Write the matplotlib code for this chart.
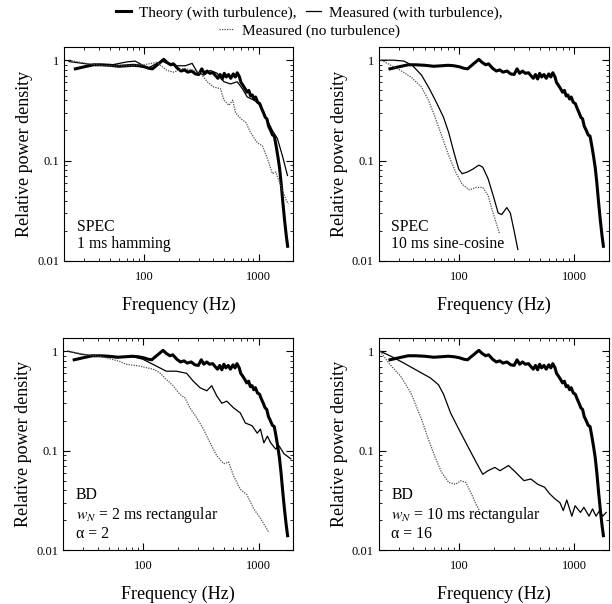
import matplotlib
matplotlib.use('Agg')
from matplotlib import pyplot as plt
from matplotlib.ticker import NullFormatter

plt.rcParams['font.family'] = ['Liberation Serif', 'DejaVu Serif']
plt.rcParams['mathtext.fontset'] = 'stix'

# theory curve (with turbulence) - same in every panel
theory_f = [25, 30, 36, 42, 50, 60, 70, 80, 90, 100, 110, 118, 130, 148, 158, 170, 180,
            195, 210, 225, 240, 260, 280, 300, 318, 335, 355, 375, 400, 420, 440, 460,
            480, 500, 520, 545, 570, 600, 625, 650, 680, 700, 730, 760, 790, 820, 850,
            880, 910, 940, 980, 1020, 1060, 1100, 1140, 1180, 1220, 1270, 1320, 1370,
            1420, 1470, 1520, 1570, 1620, 1680, 1740, 1790]
theory_v = [0.82, 0.86, 0.9, 0.9, 0.89, 0.87, 0.88, 0.89, 0.88, 0.86, 0.83, 0.82, 0.9,
            1.02, 0.95, 0.9, 0.92, 0.83, 0.78, 0.8, 0.76, 0.78, 0.73, 0.72, 0.82, 0.74,
            0.78, 0.74, 0.75, 0.7, 0.66, 0.72, 0.65, 0.74, 0.68, 0.72, 0.66, 0.73, 0.68,
            0.75, 0.68, 0.6, 0.56, 0.52, 0.48, 0.5, 0.44, 0.45, 0.41, 0.43, 0.38, 0.37,
            0.33, 0.3, 0.27, 0.26, 0.22, 0.2, 0.18, 0.175, 0.14, 0.11, 0.085, 0.06, 0.04,
            0.026, 0.018, 0.014]

# SPEC, 1 ms hamming
spec1_turb_f = [22, 36, 50, 70, 83, 99, 109, 129, 143, 158, 193, 229, 262, 290, 332, 379,
                434, 497, 568, 649, 720, 794, 910, 1039, 1152, 1317, 1458, 1610, 1784]
spec1_turb_v = [0.97, 0.9, 0.89, 0.96, 0.98, 0.88, 0.84, 0.93, 0.98, 0.93, 0.88, 0.88,
                0.93, 0.76, 0.71, 0.79, 0.74, 0.61, 0.58, 0.61, 0.52, 0.43, 0.4, 0.355,
                0.27, 0.2, 0.165, 0.112, 0.071]
spec1_none_f = [22, 31, 44, 70, 99, 129, 158, 181, 221, 271, 310, 355, 405, 464, 497, 550,
                593, 627, 700, 773, 849, 975, 1079, 1194, 1317, 1410, 1561, 1728, 1820]
spec1_none_v = [1.0, 0.93, 0.88, 0.88, 0.9, 0.95, 0.79, 0.76, 0.83, 0.79, 0.74, 0.61,
                0.54, 0.52, 0.4, 0.355, 0.4, 0.3, 0.26, 0.24, 0.19, 0.15, 0.14, 0.104,
                0.074, 0.077, 0.056, 0.041, 0.037]

# SPEC, 10 ms sine-cosine
spec10_turb_f = [21, 27, 33, 39, 47, 55, 64, 73, 81, 90, 99, 106, 118, 131, 148, 160, 178,
                 197, 218, 234, 259, 278, 297, 323]
spec10_turb_v = [1.0, 1.0, 0.98, 0.89, 0.71, 0.52, 0.37, 0.27, 0.19, 0.12, 0.082, 0.074,
                 0.077, 0.082, 0.09, 0.086, 0.066, 0.045, 0.03, 0.029, 0.034, 0.03, 0.021,
                 0.013]
spec10_none_f = [21, 31, 38, 47, 54, 61, 70, 81, 93, 106, 122, 140, 160, 178, 197, 223]
spec10_none_v = [1.0, 0.79, 0.68, 0.54, 0.4, 0.28, 0.18, 0.112, 0.077, 0.058, 0.051,
                 0.054, 0.054, 0.045, 0.03, 0.019]

# BD, wN = 2 ms, alpha = 2
bd2_turb_f = [22, 29, 41, 58, 81, 99, 129, 158, 193, 237, 271, 310, 355, 392, 434, 480,
              530, 606, 694, 768, 881, 975, 1039, 1113, 1194, 1277, 1410, 1508, 1668, 1910]
bd2_turb_v = [1.0, 0.93, 0.89, 0.86, 0.88, 0.83, 0.71, 0.63, 0.63, 0.6, 0.5, 0.43, 0.4,
              0.45, 0.355, 0.3, 0.315, 0.27, 0.24, 0.19, 0.178, 0.15, 0.165, 0.12, 0.14,
              0.12, 0.104, 0.112, 0.093, 0.083]
bd2_none_f = [22, 31, 44, 62, 70, 92, 121, 138, 158, 181, 207, 229, 253, 290, 332, 379,
              434, 497, 550, 606, 694, 794, 910, 1039, 1233]
bd2_none_v = [1.0, 0.93, 0.88, 0.79, 0.74, 0.71, 0.66, 0.61, 0.52, 0.45, 0.37, 0.34, 0.27,
              0.215, 0.165, 0.12, 0.089, 0.074, 0.077, 0.056, 0.041, 0.036, 0.026, 0.021,
              0.015]

# BD, wN = 10 ms, alpha = 16
bd10_turb_f = [20.5, 26, 33, 44, 56, 66, 73, 84, 99, 118, 140, 160, 178, 204, 226, 268,
               308, 365, 419, 481, 551, 610, 676, 751, 802, 860, 952, 1015, 1132, 1211,
               1343, 1440, 1544, 1656, 1769, 1892]
bd10_turb_v = [1.0, 0.88, 0.76, 0.63, 0.54, 0.46, 0.37, 0.24, 0.165, 0.112, 0.077, 0.058,
               0.063, 0.068, 0.063, 0.071, 0.061, 0.05, 0.052, 0.046, 0.043, 0.037, 0.033,
               0.03, 0.025, 0.032, 0.022, 0.028, 0.024, 0.027, 0.022, 0.026, 0.022, 0.025,
               0.022, 0.024]
bd10_none_f = [20.5, 25, 31, 38, 47, 54, 61, 70, 81, 93, 103, 114, 126, 140, 150]
bd10_none_v = [1.0, 0.735, 0.56, 0.38, 0.207, 0.13, 0.089, 0.061, 0.048, 0.046, 0.05,
               0.048, 0.038, 0.029, 0.025]

panel_notes = ['SPEC\n1 ms hamming',
               'SPEC\n10 ms sine-cosine',
               'BD\n$w_N$ = 2 ms rectangular\nα = 2',
               'BD\n$w_N$ = 10 ms rectangular\nα = 16']
panel_turb = [(spec1_turb_f, spec1_turb_v), (spec10_turb_f, spec10_turb_v),
              (bd2_turb_f, bd2_turb_v), (bd10_turb_f, bd10_turb_v)]
panel_none = [(spec1_none_f, spec1_none_v), (spec10_none_f, spec10_none_v),
              (bd2_none_f, bd2_none_v), (bd10_none_f, bd10_none_v)]

fig = plt.figure(figsize=(6.12, 6.04), dpi=100)

# axes rectangles in figure fractions
boxes = [[0.105, 0.568, 0.374, 0.354], [0.619, 0.568, 0.376, 0.354],
         [0.103, 0.089, 0.376, 0.351], [0.619, 0.089, 0.376, 0.351]]

for i in range(4):
    ax = fig.add_axes(boxes[i])
    h1, = ax.plot(theory_f, theory_v, color='black', lw=2.2)
    h2, = ax.plot(*panel_turb[i], color='black', lw=0.9)
    h3, = ax.plot(*panel_none[i], color='0.3', lw=0.9, linestyle=(0, (1, 1)))
    ax.set_xscale('log')
    ax.set_yscale('log')
    ax.set_xlim(20, 2000)
    ax.set_ylim(0.01, 1.35)
    ax.set_xticks([100, 1000])
    ax.set_xticklabels(['100', '1000'])
    ax.set_yticks([0.01, 0.1, 1])
    ax.set_yticklabels(['0.01', '0.1', '1'])
    ax.xaxis.set_minor_formatter(NullFormatter())
    ax.yaxis.set_minor_formatter(NullFormatter())
    ax.tick_params(which='both', direction='in', top=True, right=True, labelsize=9)
    ax.tick_params(axis='x', pad=7)
    ax.tick_params(axis='y', pad=3.5)
    ax.tick_params(which='major', length=5, width=0.8)
    ax.tick_params(which='minor', length=2.5, width=0.6)
    ax.set_xlabel('Frequency (Hz)', fontsize=13, labelpad=10)
    ax.set_ylabel('Relative power density', fontsize=13, labelpad=3)
    ax.text(0.055, 0.04, panel_notes[i], transform=ax.transAxes, fontsize=11.3,
            va='bottom', ha='left', linespacing=1.1)

fig.legend([h1, h2], ['Theory (with turbulence),', 'Measured (with turbulence),'],
           loc='center', bbox_to_anchor=(0.505, 0.979), ncol=2, frameon=False,
           fontsize=11, handlelength=1.0, handletextpad=0.5, columnspacing=0.6,
           borderpad=0, borderaxespad=0)
fig.legend([h3], ['Measured (no turbulence)'],
           loc='center', bbox_to_anchor=(0.505, 0.949), frameon=False,
           fontsize=11, handlelength=1.0, handletextpad=0.5,
           borderpad=0, borderaxespad=0)

plt.savefig('out.png', dpi=100)
